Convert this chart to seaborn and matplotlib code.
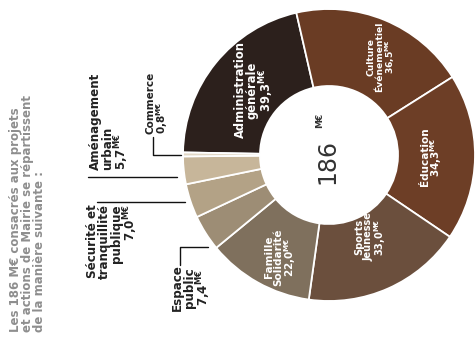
import matplotlib
matplotlib.use("Agg")
import matplotlib.pyplot as plt
import seaborn as sns

sns.set_theme(style="white")
plt.rcParams['font.family'] = ['DejaVu Sans']

# budget split (M€), clockwise from the top-left
categories = ["Administration\ngénérale", "Culture\nÉvénementiel", "Éducation",
              "Sports\nJeunesse", "Famille\nSolidarité", "Espace\npublic",
              "Sécurité et\ntranquillité\npublique", "Aménagement\nurbain", "Commerce"]
amounts = [39.3, 36.5, 34.3, 33.0, 22.0, 7.4, 7.0, 5.7, 0.8]
total_label = "186"
title = ("Les 186 M€ consacrés aux projets\n"
         "et actions de Mairie se répartissent\n"
         "de la manière suivante :")

colors = ["#2c201c", "#6a3c24", "#6d3e26", "#6b4f3d", "#7f705d",
          "#9d8d75", "#b3a286", "#c7b69a", "#e2d8c6"]

H = 339  # figure height in px, used to flip y positions


def fmt(v):
    return f"{v:.1f}".replace(".", ",") + r"$^{\mathbf{M€}}$"


fig = plt.figure(figsize=(4.75, 3.39), dpi=100)
ax = fig.add_axes([0, 0, 1, 1])

wedges, _ = ax.pie(amounts, colors=colors, startangle=179, counterclock=False,
                   radius=146, center=(329, H - 155),
                   wedgeprops=dict(width=77, edgecolor="white", linewidth=1.3))
ax.set_xlim(0, 475)
ax.set_ylim(0, H)
ax.set_aspect("equal")
ax.axis("off")

# labels inside the ring (rotated like the original)
inside = {0: (255, 90, 8.3), 1: (382, 57, 6.6), 2: (432, 157, 7.5),
          3: (371, 237, 7.0), 4: (281, 257, 7.5)}
for i, (x, y, fs) in inside.items():
    ax.text(x, H - y, categories[i] + "\n" + fmt(amounts[i]), rotation=90,
            ha="center", va="center", multialignment="center", color="white",
            fontsize=fs, fontweight="bold", linespacing=0.92)

# centre total
ax.text(327, H - 161, total_label, rotation=90,
        ha="center", va="center", fontsize=17, color="#333333")
ax.text(320, H - 120, "M€", rotation=90,
        ha="center", va="center", fontsize=6.5, fontweight="bold", color="#333333")

# outside labels with leader lines
lab = dict(rotation=90, color="#222222", fontsize=8.6, fontweight="bold",
           linespacing=0.88)
ax.text(89, H - 170, categories[7] + "\n" + fmt(amounts[7]),
        ha="left", va="bottom", multialignment="left", **lab)
ax.plot([88, 177], [H - 177, H - 177], color="#111111", lw=1)

ax.text(146, H - 134, categories[8] + "\n" + fmt(amounts[8]),
        ha="left", va="bottom", multialignment="left",
        **{**lab, "fontsize": 7.5})
ax.plot([153, 153, 181], [H - 137, H - 155, H - 155], color="#111111", lw=1)

ax.text(86, H - 204, categories[6] + "\n" + fmt(amounts[6]),
        ha="left", va="top", multialignment="right", **lab)
ax.plot([97, 185], [H - 202, H - 202], color="#111111", lw=1)

ax.text(171, H - 288, categories[5] + "\n" + fmt(amounts[5]),
        ha="left", va="center", multialignment="center", **lab)
ax.plot([180, 180, 208], [H - 265, H - 247, H - 247], color="#111111", lw=1)

# intro sentence on the left
ax.text(9, H - 332, title, rotation=90, ha="left", va="bottom",
        multialignment="left", color="#8e8e8e", fontsize=8.5,
        fontweight="bold", linespacing=0.92)

fig.savefig("out.png", dpi=100)
